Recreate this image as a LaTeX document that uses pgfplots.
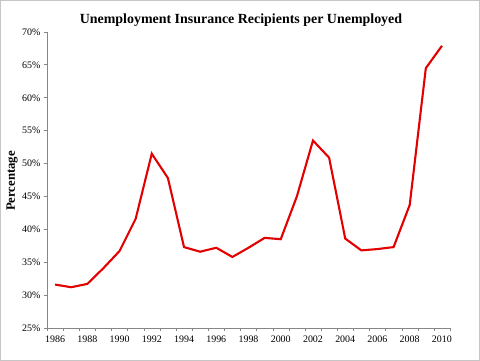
\documentclass[border=0pt]{standalone}
\usepackage{pgfplots}
\pgfplotsset{compat=1.18}
\usepackage{fontspec}
\setmainfont{Liberation Serif}
\definecolor{lineRed}{RGB}{226,0,0}
\definecolor{axGray}{RGB}{134,134,134}
\begin{document}
\begin{tikzpicture}
\begin{axis}[
  name=ax,
  scale only axis,
  width=403bp, height=296bp,
  xmin=1985.5, xmax=2010.5,
  ymin=25, ymax=70,
  axis x line*=bottom, axis y line*=left,
  axis line style={axGray, line width=0.9bp},
  xtick={1986,1988,...,2010},
  minor xtick={1985.5,1986.5,...,2010.5},
  major x tick style={draw=none},
  minor tick length=3bp,
  x tick style={axGray},
  ytick={25,30,...,70},
  y tick style={axGray, line width=0.8bp},
  major tick length=3bp,
  tick align=outside,
  xticklabel style={font=\fontsize{10}{12}\selectfont, yshift=-1.5bp},
  yticklabel style={font=\fontsize{10}{12}\selectfont},
  /pgf/number format/assume math mode=true,
  xticklabel={\pgfmathprintnumber[1000 sep={}]{\tick}},
  yticklabel={\pgfmathprintnumber{\tick}\%},
  clip=false,
]
\addplot[lineRed, line width=2.1bp] coordinates {
(1986,31.6) (1987,31.2) (1988,31.7) (1989,34.1) (1990,36.7)
(1991,41.6) (1992,51.5) (1993,47.8) (1994,37.3) (1995,36.6)
(1996,37.2) (1997,35.8) (1998,37.2) (1999,38.7) (2000,38.5)
(2001,45.0) (2002,53.5) (2003,50.9) (2004,38.6) (2005,36.8)
(2006,37.0) (2007,37.3) (2008,43.7) (2009,64.5) (2010,67.9)
};
\end{axis}
\path ([shift={(-47bp,-33bp)}]ax.south west) coordinate (BL);
\draw[gray!45, line width=1bp] ([shift={(0.5bp,0.5bp)}]BL) rectangle ([shift={(479.5bp,360.5bp)}]BL);
\node[font=\fontsize{14}{16}\selectfont\bfseries] at ([shift={(241bp,341bp)}]BL) {Unemployment Insurance Recipients per Unemployed};
\node[font=\fontsize{12.8}{14}\selectfont\bfseries, rotate=90] at ([shift={(12bp,180bp)}]BL) {Percentage};
\end{tikzpicture}
\end{document}
